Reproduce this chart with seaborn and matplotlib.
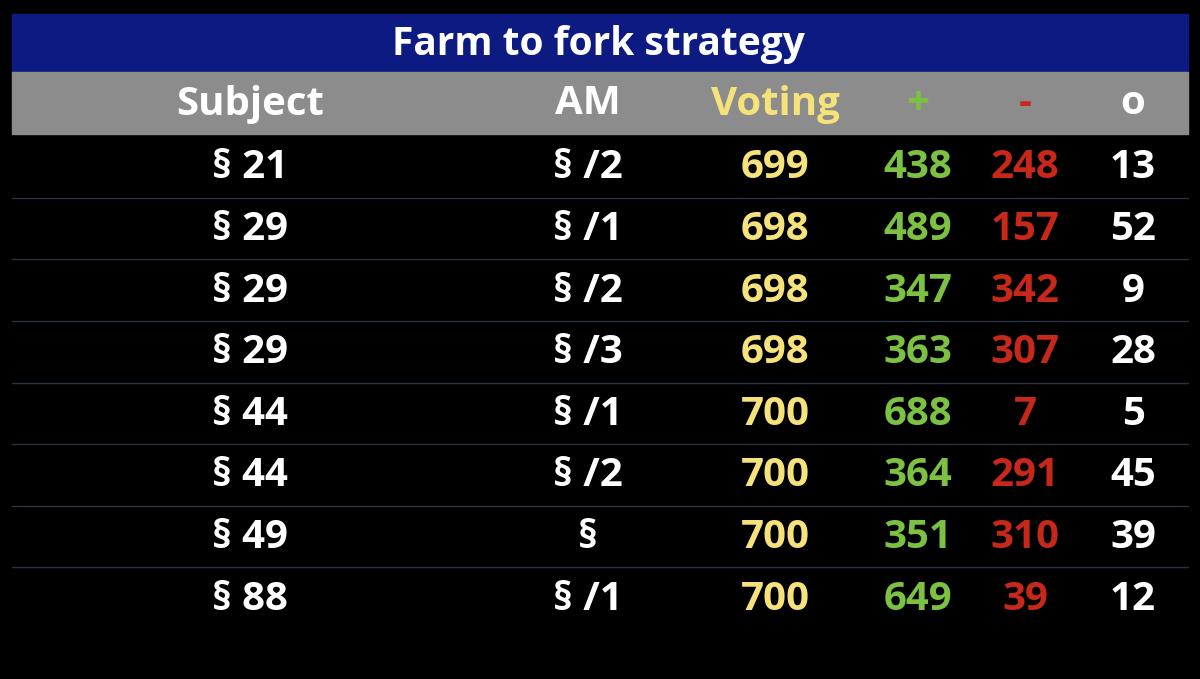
import matplotlib.pyplot as plt
import seaborn as sns

sns.set_theme(style="dark")
plt.rcParams["font.family"] = ["Open Sans", "DejaVu Sans"]

title = "Farm to fork strategy"
headers = ["Subject", "AM", "Voting", "+", "-", "o"]
subjects = ["§ 21", "§ 29", "§ 29", "§ 29", "§ 44", "§ 44", "§ 49", "§ 88"]
amendments = ["§ /2", "§ /1", "§ /2", "§ /3", "§ /1", "§ /2", "§", "§ /1"]
voting = [699, 698, 698, 698, 700, 700, 700, 700]
yes = [438, 489, 347, 363, 688, 364, 351, 649]
no = [248, 157, 342, 307, 7, 291, 310, 39]
abstain = [13, 52, 9, 28, 5, 45, 39, 12]

col_x = [250, 588, 775, 918, 1025, 1133]
cell_colors = ["white", "white", "#f6e27a", "#7cc142", "#c8281a", "white"]

fig = plt.figure(figsize=(12, 6.79), dpi=100, facecolor="black")
ax = fig.add_axes([0, 0, 1, 1])
ax.set_facecolor("black")
ax.set_xlim(0, 1200)
ax.set_ylim(679, 0)
ax.axis("off")

# title and header bars
ax.add_patch(plt.Rectangle((12, 14), 1176, 58, color="#0c1a82"))
ax.add_patch(plt.Rectangle((12, 72), 1176, 62, color="#8c8c8c"))
ax.text(598, 44, title, color="white", fontsize=28, fontweight="bold",
        ha="center", va="center")
for x, h, c in zip(col_x, headers, cell_colors):
    ax.text(x, 104, h, color=c, fontsize=29, fontweight="bold",
            ha="center", va="center")

row_h = 61.6
for i, row in enumerate(zip(subjects, amendments, voting, yes, no, abstain)):
    y = 168 + i * row_h
    for x, v, c in zip(col_x, row, cell_colors):
        ax.text(x, y, str(v), color=c, fontsize=29, fontweight="bold",
                ha="center", va="center")
    if i < len(subjects) - 1:
        ax.plot([12, 1188], [y - 1 + row_h / 2] * 2, color="#2a3346", lw=1)

fig.savefig("out.png", dpi=100, facecolor="black")
